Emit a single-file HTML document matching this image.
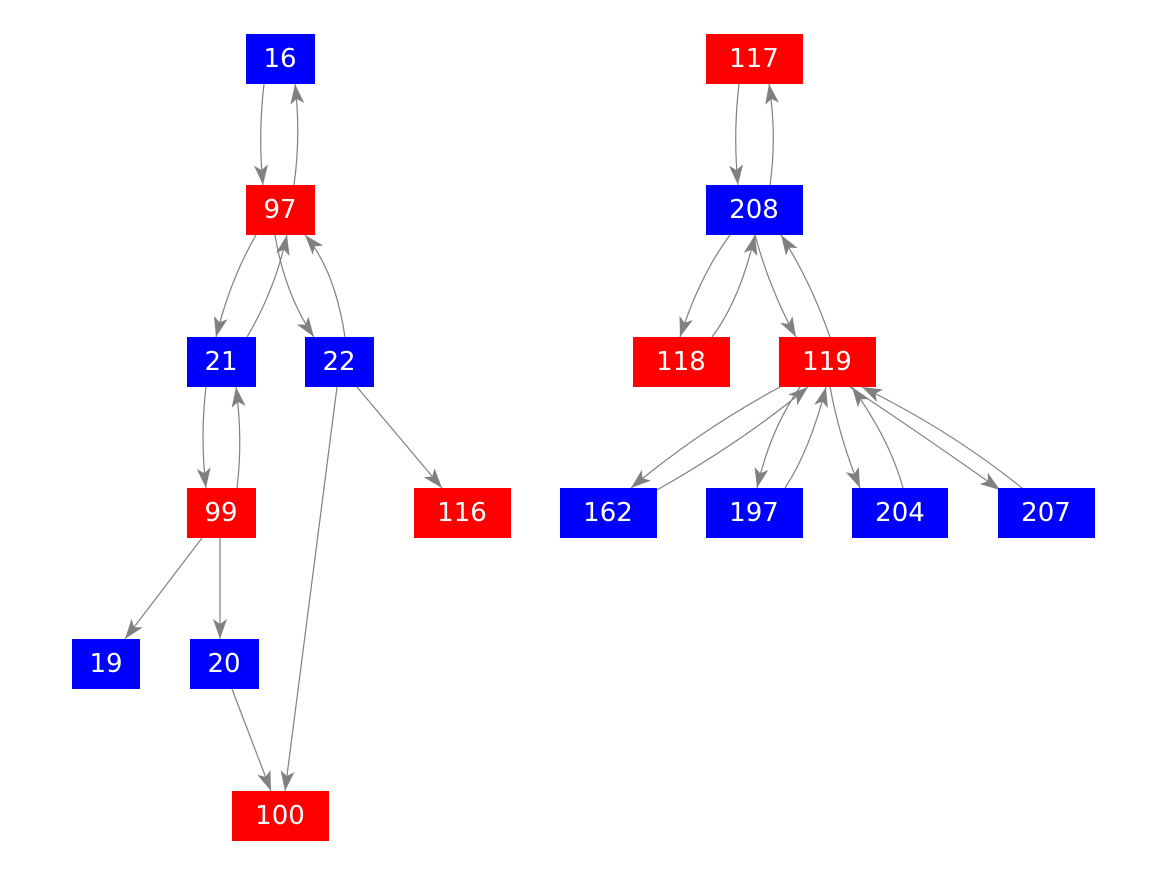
<!DOCTYPE html>
<html><head><meta charset="utf-8"><style>
body{margin:0;background:#fff}
svg text{font-family:"DejaVu Sans","Liberation Sans",sans-serif;font-size:26px;fill:#fff;text-anchor:middle;dominant-baseline:central}
</style></head><body>
<svg width="1167" height="875" viewBox="0 0 1167 875" xmlns="http://www.w3.org/2000/svg">
<defs><marker id="a" viewBox="0 0 20 14" refX="20" refY="7" markerWidth="20" markerHeight="14" markerUnits="userSpaceOnUse" orient="auto"><path d="M0,0 L20,7 L0,14 L5,7 Z" fill="#808080"/></marker></defs>
<g fill="none" stroke="#808080" stroke-width="1.2" marker-end="url(#a)">
<path d="M264,84 Q258,135 263,185"/>
<path d="M294,185 Q301,135 295,84"/>
<path d="M256,235 Q230,280 216,337"/>
<path d="M247,337 Q275,290 287,235"/>
<path d="M275,235 Q285,295 314,337"/>
<path d="M345,337 Q335,270 305,235"/>
<path d="M206,387 Q200,437 206,488"/>
<path d="M237,488 Q243,440 236,387"/>
<path d="M202,538 L125,639"/>
<path d="M220,538 L220,639"/>
<path d="M357,387 L442,488"/>
<path d="M337,387 L285,791"/>
<path d="M232,689 L271,791"/>
<path d="M739,84 Q733,135 738,185"/>
<path d="M770,185 Q777,135 769,84"/>
<path d="M730,235 Q700,275 680,337"/>
<path d="M712,337 Q740,300 755,235"/>
<path d="M755,235 Q770,290 796,337"/>
<path d="M830,337 Q810,280 781,235"/>
<path d="M780,387 Q700,430 631,488"/>
<path d="M657,490 Q745,440 808,387"/>
<path d="M800,387 Q770,430 757,488"/>
<path d="M785,488 Q810,450 826,387"/>
<path d="M830,387 Q840,440 860,488"/>
<path d="M903,488 Q890,440 852,387"/>
<path d="M850,387 Q930,440 1000,490"/>
<path d="M1022,488 Q950,430 862,387"/>
</g>
<g>
<rect x="246" y="34" width="69" height="50" fill="#00f"/><text x="280" y="59">16</text>
<rect x="246" y="185" width="69" height="50" fill="#f00"/><text x="280" y="210">97</text>
<rect x="187" y="337" width="69" height="50" fill="#00f"/><text x="221" y="362">21</text>
<rect x="305" y="337" width="69" height="50" fill="#00f"/><text x="339" y="362">22</text>
<rect x="187" y="488" width="69" height="50" fill="#f00"/><text x="221" y="513">99</text>
<rect x="414" y="488" width="97" height="50" fill="#f00"/><text x="462" y="513">116</text>
<rect x="72" y="639" width="68" height="50" fill="#00f"/><text x="106" y="664">19</text>
<rect x="190" y="639" width="69" height="50" fill="#00f"/><text x="224" y="664">20</text>
<rect x="232" y="791" width="97" height="50" fill="#f00"/><text x="280" y="816">100</text>
<rect x="706" y="34" width="97" height="50" fill="#f00"/><text x="754" y="59">117</text>
<rect x="706" y="185" width="97" height="50" fill="#00f"/><text x="754" y="210">208</text>
<rect x="633" y="337" width="97" height="50" fill="#f00"/><text x="681" y="362">118</text>
<rect x="779" y="337" width="97" height="50" fill="#f00"/><text x="827" y="362">119</text>
<rect x="560" y="488" width="97" height="50" fill="#00f"/><text x="608" y="513">162</text>
<rect x="706" y="488" width="97" height="50" fill="#00f"/><text x="754" y="513">197</text>
<rect x="852" y="488" width="96" height="50" fill="#00f"/><text x="900" y="513">204</text>
<rect x="998" y="488" width="97" height="50" fill="#00f"/><text x="1046" y="513">207</text>
</g>
</svg>
</body></html>
